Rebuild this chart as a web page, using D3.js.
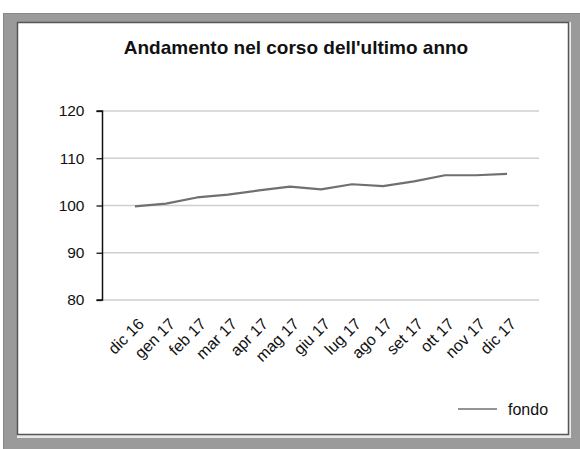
<!DOCTYPE html>
<html><head><meta charset="utf-8">
<script src="https://cdn.jsdelivr.net/npm/d3@7"></script>
<style>html,body{margin:0;padding:0;background:#fff;}svg{display:block;}</style>
</head><body>
<svg id="c" width="580" height="449"></svg>
<script>
const title = "Andamento nel corso dell'ultimo anno";
const categories = ["dic 16","gen 17","feb 17","mar 17","apr 17","mag 17","giu 17","lug 17","ago 17","set 17","ott 17","nov 17","dic 17"];
const fondo = [99.8,100.4,101.7,102.3,103.2,104.0,103.4,104.5,104.1,105.1,106.4,106.4,106.7];
const yTicks = [80,90,100,110,120];
const seriesName = "fondo";

const svg = d3.select("#c");
const font = "Liberation Sans, Arial, sans-serif";

// frame
svg.append("rect").attr("x",3.5).attr("y",13.5).attr("width",580).attr("height",440)
  .attr("fill","#9a9a9a").attr("stroke","#888").attr("stroke-width",1);
svg.append("rect").attr("x",17).attr("y",22).attr("width",554).attr("height",416).attr("fill","#e8e8e8");
svg.append("rect").attr("x",17.5).attr("y",22.5).attr("width",551).attr("height",412)
  .attr("fill","#fff").attr("stroke","#555").attr("stroke-width",1.5);

const x = d3.scalePoint().domain(categories).range([103,539]).padding(1.03);
const y = d3.scaleLinear().domain([80,120]).range([300,111]);

// gridlines
svg.append("g").selectAll("line").data(yTicks).join("line")
  .attr("x1",103).attr("x2",539).attr("y1",d=>y(d)).attr("y2",d=>y(d))
  .attr("stroke","#cfcfcf").attr("stroke-width",1.5);

// y axis
const yAxis = d3.axisLeft(y).tickValues(yTicks).tickSize(6).tickPadding(12).tickFormat(d3.format("d"));
const ga = svg.append("g").attr("transform","translate(102.5,0)").call(yAxis);
ga.select(".domain").attr("stroke","#111").attr("stroke-width",1.5).attr("d","M-6,"+y(120)+"H0V"+y(80)+"H-6");
ga.selectAll(".tick line").attr("stroke","#111").attr("stroke-width",1.3);
ga.selectAll("text").attr("font-family",font).attr("font-size",15.5).attr("fill","#111");

// x labels
svg.append("g").selectAll("text").data(categories).join("text")
  .attr("transform",d=>`translate(${x(d)+10},${325}) rotate(-45)`)
  .attr("text-anchor","end").attr("font-family",font).attr("font-size",16).attr("fill","#111")
  .text(d=>d);

// line
const line = d3.line().x((d,i)=>x(categories[i])).y(d=>y(d));
svg.append("path").datum(fondo).attr("d",line).attr("fill","none")
  .attr("stroke","#707070").attr("stroke-width",2.2).attr("stroke-linejoin","round");

// title
svg.append("text").attr("x",296).attr("y",54).attr("text-anchor","middle")
  .attr("font-family",font).attr("font-weight","bold").attr("font-size",19).attr("fill","#111").text(title);

// legend
svg.append("line").attr("x1",458).attr("x2",497).attr("y1",409).attr("y2",409)
  .attr("stroke","#707070").attr("stroke-width",1.5);
svg.append("text").attr("x",508).attr("y",414.5).attr("font-family",font).attr("font-size",16)
  .attr("fill","#111").text(seriesName);
</script>
</body></html>
